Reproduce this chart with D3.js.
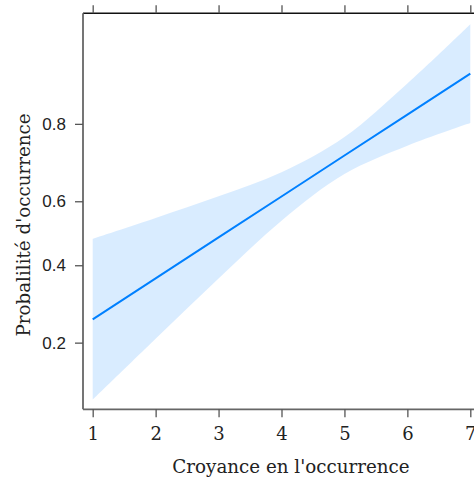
<!DOCTYPE html>
<meta charset="utf-8">
<style>
    body {
        margin: 0;
        background-color: #ffffff;
    }
    svg { display: block; }
    .ylab text { font-family: "Liberation Sans", Arial, sans-serif; font-size: 17px; fill: #222; }
    .xlab text { font-family: "DejaVu Serif", serif; font-size: 18px; fill: #222; }
    .axis path { display: none; }
    .axis line { stroke: #555; stroke-width: 1.3px; }
    .title { font-family: "DejaVu Serif", serif; font-size: 18.3px; fill: #222; }
</style>

<body>
    <svg width="474" height="479"></svg>
    <script src="https://d3js.org/d3.v7.min.js"></script>
    <script>
        // values (effect of belief on probability)
        var croyance = [1, 2, 3, 4, 5, 6, 7];
        var fit = [0.2515, 0.3608, 0.4868, 0.6144, 0.7281, 0.8182, 0.8832];
        var lower = [0.1080, 0.2079, 0.3603, 0.5397, 0.6792, 0.7521, 0.8016];
        var upper = [0.4825, 0.5483, 0.6149, 0.6842, 0.7721, 0.8697, 0.9340];
        var yTicks = [0.2, 0.4, 0.6, 0.8];
        var xTicks = [1, 2, 3, 4, 5, 6, 7];

        var svg = d3.select("svg");
        var mLeft = 83, mRight = 480, mTop = 13.3, mBottom = 409.3;

        var logit = function(p) { return Math.log(p / (1 - p)); };

        var x = d3.scaleLinear().domain([0.846, 7.154]).range([mLeft, mRight]);
        // y axis is on the logit scale
        var yl = d3.scaleLinear().domain([logit(0.097), logit(0.942)]).range([mBottom, mTop]);
        var y = function(p) { return yl(logit(p)); };

        var data = croyance.map(function(d, i) {
            return { x: d, fit: fit[i], lo: lower[i], hi: upper[i] };
        });

        svg.append("path")
            .datum(data)
            .attr("fill", "#0080ff")
            .attr("fill-opacity", 0.15)
            .attr("d", d3.area()
                .curve(d3.curveCatmullRom.alpha(0.5))
                .x(function(d) { return x(d.x); })
                .y0(function(d) { return y(d.lo); })
                .y1(function(d) { return y(d.hi); }));

        svg.append("path")
            .datum(data)
            .attr("fill", "none")
            .attr("stroke", "#0080ff")
            .attr("stroke-width", 2)
            .attr("d", d3.line()
                .x(function(d) { return x(d.x); })
                .y(function(d) { return y(d.fit); }));

        // frame
        svg.append("line").attr("x1", mLeft).attr("x2", mRight).attr("y1", mTop).attr("y2", mTop)
            .attr("stroke", "#111").attr("stroke-width", 1.6);
        svg.append("line").attr("x1", mLeft).attr("x2", mLeft).attr("y1", mTop).attr("y2", mBottom)
            .attr("stroke", "#666").attr("stroke-width", 1.8);
        svg.append("line").attr("x1", mLeft).attr("x2", mRight).attr("y1", mBottom).attr("y2", mBottom)
            .attr("stroke", "#666").attr("stroke-width", 1.8);

        svg.append("g")
            .attr("class", "axis xlab")
            .attr("transform", "translate(0," + mBottom + ")")
            .call(d3.axisBottom(x).tickValues(xTicks).tickSize(8).tickPadding(10).tickFormat(d3.format("d")));

        svg.append("g")
            .attr("class", "axis")
            .attr("transform", "translate(0," + mTop + ")")
            .call(d3.axisTop(x).tickValues(xTicks).tickSize(8).tickFormat(""));

        svg.append("g")
            .attr("class", "axis ylab")
            .attr("transform", "translate(" + mLeft + ",0)")
            .call(d3.axisLeft(yl).tickValues(yTicks.map(logit)).tickSize(8).tickPadding(9)
                .tickFormat(function(d) { return d3.format(".1f")(1 / (1 + Math.exp(-d))); }));

        svg.append("text")
            .attr("class", "title")
            .attr("x", 291)
            .attr("y", 473)
            .attr("text-anchor", "middle")
            .text("Croyance en l'occurrence");

        svg.append("text")
            .attr("class", "title")
            .attr("transform", "translate(30,225) rotate(-90)")
            .attr("text-anchor", "middle")
            .text("Probalilité d'occurrence");
    </script>
</body>
